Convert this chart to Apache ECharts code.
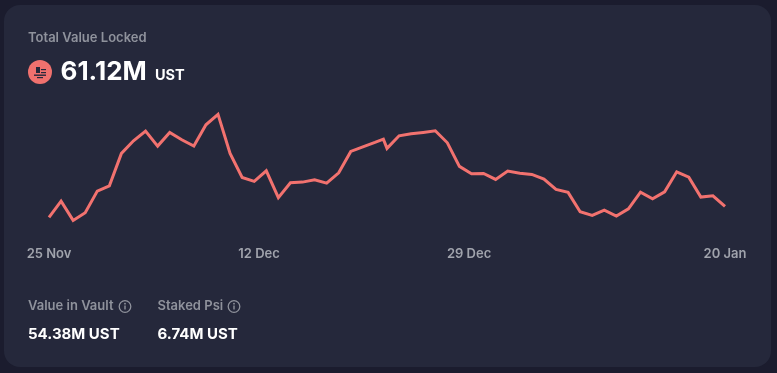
<!DOCTYPE html>
<html><head><meta charset="utf-8">
<style>html,body{margin:0;padding:0;background:#1b1c2e;}#c{width:777px;height:373px;}</style>
<script src="https://cdn.jsdelivr.net/npm/echarts@6/dist/echarts.min.js"></script>
</head><body><div id="c"></div>
<script>
const titleText = 'Total Value Locked';
const totalValue = '61.12M';
const unit = 'UST';
const statLabels = ['Value in Vault', 'Staked Psi'];
const statValues = ['54.38M UST', '6.74M UST'];
const tickDays = [0, 17.4, 34.8, 56];
const tickLabels = ['25 Nov', '12 Dec', '29 Dec', '20 Jan'];
const days = [0,1,2,3,4,5,6,7,8,9,10,11,12,13,14,15,16,17,18,19,20,21,22,23,24,25,26,27,27.7,28,29,30,31,32,33,34,35,36,37,38,39,40,41,42,43,44,45,46,47,48,49,50,51,52,53,54,55,56];
const tvl = [58.92,62.18,58.32,59.84,64.18,65.24,71.72,74.24,76.18,73.18,75.92,74.44,73.18,77.44,79.52,71.72,66.92,66.12,68.24,62.88,65.84,65.98,66.44,65.78,67.84,72.12,73.04,73.92,74.58,72.72,75.24,75.64,75.92,76.24,73.84,69.12,67.64,67.72,66.52,68.18,67.74,67.52,66.58,64.52,63.92,60.04,59.32,60.38,59.18,60.64,63.98,62.64,64.04,68.04,66.98,62.98,63.24,61.12];

const FONT = 'Inter, "Noto Sans", sans-serif';
const chart = echarts.init(document.getElementById('c'), null, {renderer:'canvas'});
const txt = (x,y,text,size,weight,fill) => ({type:'text',x,y,z:10,style:{text,fontFamily:FONT,fontSize:size,fontWeight:weight,fill,textVerticalAlign:'middle',textBaseline:'middle'}});
const info = (cx,cy) => ({type:'group',x:cx,y:cy,z:10,children:[
  {type:'circle',shape:{r:5.8},style:{fill:'none',stroke:'#8f929c',lineWidth:1.3}},
  {type:'rect',shape:{x:-0.7,y:-1,width:1.4,height:4},style:{fill:'#8f929c'}},
  {type:'circle',shape:{cx:0,cy:-2.8,r:0.9},style:{fill:'#8f929c'}}
]});
chart.setOption({
  animation:false,
  backgroundColor:'#1b1c2e',
  grid:{left:49,right:52,top:102,height:130,containLabel:false},
  xAxis:{type:'value',min:0,max:56,splitLine:{show:false},axisLine:{show:false},axisTick:{show:false},
    axisLabel:{customValues:tickDays,margin:16,showMinLabel:true,showMaxLabel:true,color:'#a0a3ac',fontFamily:FONT,fontSize:13,fontWeight:600,
      formatter:v=>tickLabels[tickDays.indexOf(v)]}},
  yAxis:{type:'value',min:56,max:82,show:false,splitLine:{show:false}},
  series:[{type:'line',data:days.map((d,i)=>[d,tvl[i]]),showSymbol:false,symbol:'none',z:5,
    lineStyle:{color:'#f2726f',width:3,join:'miter'},itemStyle:{color:'#f2726f'}}],
  graphic:{elements:[
    {type:'rect',z:0,shape:{x:4,y:5,width:767,height:362,r:16},style:{fill:'#25283b'}},
    txt(28,38,titleText,13,600,'#8f929c'),
    {type:'circle',z:10,shape:{cx:40,cy:72,r:12},style:{fill:'#f0716e'}},
    {type:'rect',z:11,shape:{x:36,y:67,width:4,height:6},style:{fill:'#25283b'}},
    {type:'rect',z:11,shape:{x:41,y:69,width:5,height:1.2},style:{fill:'#25283b'}},
    {type:'rect',z:11,shape:{x:41,y:72,width:5,height:1.2},style:{fill:'#25283b'}},
    {type:'rect',z:11,shape:{x:34,y:74.5,width:12,height:1.4},style:{fill:'#25283b'}},
    {type:'rect',z:11,shape:{x:37,y:77,width:6,height:1.2},style:{fill:'#25283b'}},
    txt(60.5,72,totalValue,26,700,'#ffffff'),
    txt(155,76,unit,14.5,700,'#ffffff'),
    txt(28,306,statLabels[0],13,600,'#8f929c'),
    info(125,306.5),
    txt(157.5,306,statLabels[1],13,600,'#8f929c'),
    info(234,306.5),
    txt(28,334,statValues[0],15,700,'#ffffff'),
    txt(157.5,334,statValues[1],15,700,'#ffffff')
  ]}
});
</script></body></html>
